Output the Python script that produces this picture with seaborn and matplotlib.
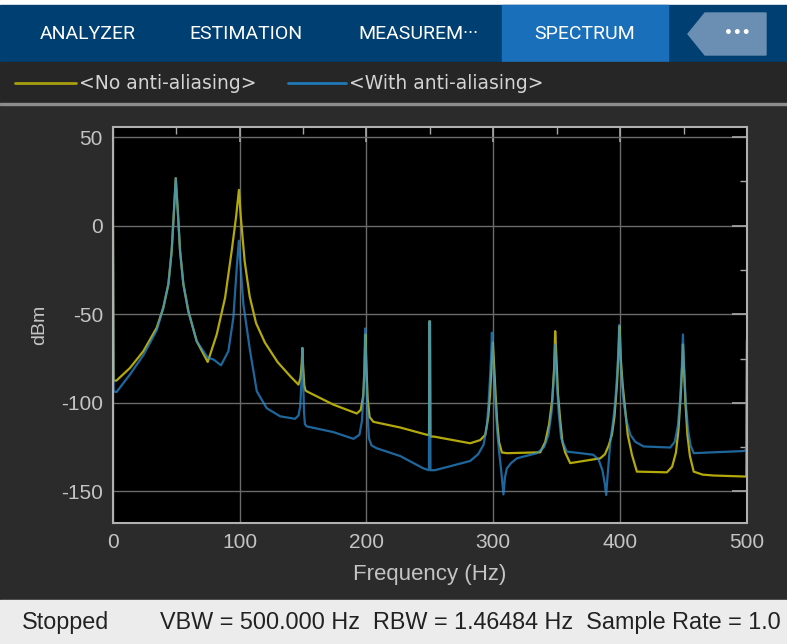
import numpy as np
import pandas as pd
import matplotlib
matplotlib.use("Agg")
import matplotlib.pyplot as plt
import seaborn as sns
from matplotlib.patches import Rectangle, Polygon
from matplotlib.ticker import MultipleLocator

# ==========================================
# 1. DONNEES
# ==========================================
freq_no_aa = [0, 0.7, 3, 13.6, 24.2, 34.7, 39.9, 43.9, 46.5, 48.3, 49.7, 51.3, 53.1, 55.7, 59.6, 66.2, 74.9,
              82, 88.6, 93.8, 97.2, 99.5, 101, 104, 108, 113, 120, 130, 140, 146.4,
              148, 149, 149.5, 150, 151, 152, 153, 174, 192.4,
              195.5, 197.5, 198.5, 199.2, 200, 201, 202.5, 205.5,
              226.6, 247.6, 249.4, 249.6, 250.1, 250.4, 253, 281.8, 289.7,
              293.7, 296, 297.5, 298.7, 299.7, 300.6, 301.8, 303, 304.5, 306.8, 310.7, 337,
              341, 344, 346.5, 348, 348.8, 349.8, 351, 352.8, 354.5, 356.7, 360.6, 384.3,
              388, 391, 393.5, 395.5, 397.5, 398.8, 399.6, 400.5, 402, 404, 406, 409.3, 413.2, 436.9,
              441, 444, 446, 447.8, 449, 449.5, 450.3, 451.5, 453, 455, 458, 465, 473.7, 499.5, 500]
db_no_aa = [32, -87.5, -87.4, -80.3, -70.8, -57.6, -46.3, -33, -14.2, 8.5, 26.8, 8.5, -14.2, -33, -48.2, -65.2, -76.9,
            -61.4, -40.6, -14.2, 4.7, 20.2, 4.7, -20, -40, -55, -66, -77, -85, -89.7,
            -86, -78, -69, -78, -90, -93, -93.5, -101, -106,
            -104, -96, -80, -61.4, -80, -98, -108, -110.7,
            -113.9, -118, -118, -54, -54, -119, -119, -122.8, -121,
            -118, -108, -95, -78, -66, -78, -95, -110, -122, -128, -128.4, -127.9,
            -122, -112, -98, -80, -59.5, -75, -95, -110, -122, -128, -134, -131.3,
            -129, -124, -118, -108, -89.7, -70, -56.7, -75, -90, -104, -118, -129.3, -138.8, -139.2,
            -136, -128, -115, -95, -78, -67, -80, -100, -118, -130, -138.8, -140.5, -141, -141.6, -64.8]

freq_aa = [0, 0.7, 3, 13.6, 24.2, 34.7, 39.9, 43.9, 46.5, 48.3, 49.7, 51.3, 53.1, 55.7, 59.6, 66.2, 74.9,
           79.4, 85.4, 91.2, 95.1, 97.8, 99.4, 100.9, 103, 108.3, 113.6, 121.4, 132, 143.8,
           146.5, 147.8, 148.8, 149.5, 150.2, 150.8, 151.5, 153, 174, 189.8,
           194.5, 196.5, 198, 199, 199.8, 200.8, 202, 204, 208,
           226.6, 245, 249.3, 249.6, 250.1, 250.5, 254, 281.8, 288,
           292.3, 295, 296.2, 297.5, 298.5, 298.9, 299.5, 300.5, 301.8, 303, 304.5, 306.5, 308,
           309.2, 310.7, 314, 318.6, 334.4,
           340, 343.5, 346, 347.8, 348.8, 349.8, 351.5, 353.5, 357.9, 370, 378.8,
           383, 386, 388, 389, 390, 392.3, 394.5, 396.2, 398, 399.3, 400.5, 402.7, 405, 408, 412, 418.5, 439.5,
           443, 445.5, 447.3, 448.6, 449.5, 450.4, 451.7, 453.5, 455.5, 458, 470, 497.3, 499.5, 500]
db_aa = [32, -93.5, -93.9, -84, -73, -59, -46.3, -33, -14.2, 8.5, 26.8, 8.5, -14.2, -33, -48.2, -65.2, -74.5,
         -75.5, -78.8, -70.8, -52, -23.6, -8.5, -23.6, -44.4, -70.8, -93.5, -103, -107.6, -109,
         -107, -102, -88, -69, -88, -105, -112, -113.3, -116.5, -120.3,
         -118, -110, -90, -58, -80, -105, -120, -124, -125.6,
         -130, -137, -138, -54, -54, -138, -138, -132.8, -129,
         -123.7, -113, -101, -85, -70, -60.4, -70, -85, -101, -115, -127, -140, -151.7,
         -142, -137, -134, -131.3, -128.4,
         -125, -118, -105, -85, -67, -85, -105, -120, -127.5, -128.5, -129.3,
         -132, -138, -146, -152, -142, -121.8, -110, -99, -80, -56, -80, -99, -110, -118, -122, -124.6, -125.2,
         -122, -113, -98, -80, -61.4, -80, -100, -115, -124, -128.4, -128, -127.2, -126.5, -64]

series_labels = ['<No anti-aliasing>', '<With anti-aliasing>']
tab_labels = ['ANALYZER', 'ESTIMATION', 'MEASUREM\u00b7\u00b7\u00b7', 'SPECTRUM']
# la barre d'état est coupée au bord droit dans la capture
status_text = 'VBW = 500.000 Hz  RBW = 1.46484 Hz  Sample Rate = 1.0'

df = pd.concat([
    pd.DataFrame({'freq': freq_no_aa, 'dbm': db_no_aa, 'serie': series_labels[0]}),
    pd.DataFrame({'freq': freq_aa, 'dbm': db_aa, 'serie': series_labels[1]}),
])

# ==========================================
# 2. FIGURE
# ==========================================
W, H = 787, 644
sns.set_style("dark")
plt.rcParams['font.family'] = ['Liberation Sans', 'DejaVu Sans']
plt.rcParams['axes.unicode_minus'] = False

fig = plt.figure(figsize=(W / 100, H / 100), dpi=100)
fig.patch.set_facecolor('#2b2b2b')

# fond de l'interface (coordonnées en pixels)
bg = fig.add_axes([0, 0, 1, 1])
bg.set_xlim(0, W)
bg.set_ylim(H, 0)
bg.axis('off')
bg.add_patch(Rectangle((0, 0), W, H, color='#2b2b2b'))
bg.add_patch(Rectangle((0, 0), W, 5, color='white'))
bg.add_patch(Rectangle((0, 5), W, 57, color='#003f72'))
bg.add_patch(Rectangle((502, 5), 166, 57, color='#1a6fba'))
bg.add_patch(Polygon([(688, 34), (705, 13), (766, 13), (766, 55), (705, 55)], closed=True, color='#6b8fb2'))
bg.text(737, 33, '\u2022\u2022\u2022', color='white', fontsize=10, ha='center', va='center', family='DejaVu Sans',
        fontweight='bold')
for lab, cx in zip(tab_labels, [88, 246, 418, 585]):
    bg.text(cx, 34, lab, color='white', fontsize=14, ha='center', va='center', family='Roboto')
bg.add_patch(Rectangle((0, 62), W, 41, color='#262626'))
bg.add_patch(Rectangle((0, 103), W, 2, color='#8c8c8c'))
bg.plot([15, 76], [83, 83], color='#a89f10', lw=2)
bg.text(79, 83, series_labels[0], color='#d4d4d4', fontsize=13.5, va='center', family='DejaVu Sans')
bg.plot([288, 346], [83, 83], color='#1f78b8', lw=2)
bg.text(349, 83, series_labels[1], color='#d4d4d4', fontsize=13.5, va='center', family='DejaVu Sans')
bg.add_patch(Rectangle((0, 600), W, 44, color='#ececec'))
bg.text(22, 622, 'Stopped', color='#222222', fontsize=16.8, va='center')
bg.text(160, 622, status_text, color='#222222', fontsize=16.8, va='center')

# ==========================================
# 3. SPECTRE (seaborn)
# ==========================================
x0, x1, y0, y1 = 112.7, 747, 127, 523
ax = fig.add_axes([x0 / W, 1 - y1 / H, (x1 - x0) / W, (y1 - y0) / H])
ax.set_facecolor('black')

palette = {series_labels[0]: '#b4a90a', series_labels[1]: '#2a8fd8'}
sns.lineplot(data=df[df.serie == series_labels[0]], x='freq', y='dbm', color=palette[series_labels[0]],
             estimator=None, sort=False, lw=1.6, ax=ax, legend=False)
sns.lineplot(data=df[df.serie == series_labels[1]], x='freq', y='dbm', color=palette[series_labels[1]],
             estimator=None, sort=False, lw=1.6, alpha=0.72, ax=ax, legend=False)

ax.set_xlim(0, 500)
ax.set_ylim(-167.8, 55.7)
ax.xaxis.set_major_locator(MultipleLocator(100))
ax.xaxis.set_minor_locator(MultipleLocator(50))
ax.yaxis.set_major_locator(MultipleLocator(50))
ax.yaxis.set_minor_locator(MultipleLocator(25))
ax.grid(True, which='major', color='#6a6a6a', lw=1)
ax.grid(False, which='minor')
ax.tick_params(which='both', direction='in', top=True, right=True, colors='#a8a8a8',
               labelcolor='#c4c4c4', labelsize=15)
ax.tick_params(which='major', length=11, width=1.2, pad=7)
ax.tick_params(which='minor', length=5, width=1)
for sp in ax.spines.values():
    sp.set_color('#b0b0b0')
    sp.set_linewidth(1.5)
ax.set_xlabel('Frequency (Hz)', color='#c4c4c4', fontsize=16, labelpad=9)
ax.set_ylabel('dBm', color='#c4c4c4', fontsize=14, labelpad=9)

fig.savefig('out.png', dpi=100, facecolor=fig.get_facecolor())
